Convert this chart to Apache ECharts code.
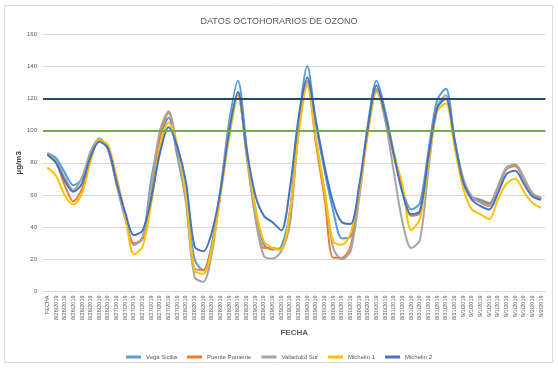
<!DOCTYPE html>
<html>
<head>
<meta charset="utf-8">
<script src="https://cdn.jsdelivr.net/npm/echarts@6/dist/echarts.min.js"></script>
<style>html,body{margin:0;padding:0;background:#fff}#c{width:558px;height:368px}</style>
</head>
<body>
<div id="c"></div>
<script>
const categories = ['FECHA',
 '8/26/2019','8/26/2019','8/26/2019','8/26/2019','8/26/2019','8/26/2019','8/26/2019',
 '8/27/2019','8/27/2019','8/27/2019','8/27/2019','8/27/2019','8/27/2019','8/27/2019','8/27/2019',
 '8/28/2019','8/28/2019','8/28/2019','8/28/2019','8/28/2019','8/28/2019','8/28/2019','8/28/2019',
 '8/29/2019','8/29/2019','8/29/2019','8/29/2019','8/29/2019','8/29/2019','8/29/2019','8/29/2019',
 '8/30/2019','8/30/2019','8/30/2019','8/30/2019','8/30/2019','8/30/2019','8/30/2019','8/30/2019',
 '8/31/2019','8/31/2019','8/31/2019','8/31/2019','8/31/2019','8/31/2019','8/31/2019','8/31/2019',
 '9/1/2019','9/1/2019','9/1/2019','9/1/2019','9/1/2019','9/1/2019','9/1/2019','9/1/2019',
 '9/2/2019','9/2/2019'];

const vegaSicilia   = [86,83,74,66,70,86,94,89,67,46,29,33,70,96,108,84,57,20,13,30,64,106,131,90,52,29,26,28,50,105,140,104,75,50,33,34,62,104,131,112,86,63,51,55,88,119,126,95,70,59,57,55,65,77,78,70,61,58];
const puentePoniente= [85,80,66,56,64,83,95,89,67,46,30,33,60,96,111,88,58,14,13.5,28,62,100,124,85,48,27,27,26,46,100,130,92,58,21,21,28,60,100,125,108,84,63,47,49,84,114,120,92,68,58,56,54,64,76,78,70,61,57.5];
const valladolidSur = [86,81,71,63,71,87,95,88,66,45,29,34,66,100,112,88,55,9,6,24,62,102,122,84,46,22,20.5,25,42,100,131,94,62,27,20,25,58,100,126,106,74,43,27,32,76,115,122,94,70,59,55,53,65,77,79,71,61,58.5];
const michelin1     = [77,72,60,54,61,81,94,91,71,47,23,28,55,90,105,91,60,13,11,27,60,96,121,87,52,31,27,26,50,97,128,95,63,31,29,36,62,98,124,110,86,66,38,45,80,112,117,90,64,51,48,45,57,67,70,62,55,52];
const michelin2     = [85,80,69,62,67,84,93,89,68,49,35,38,58,86,102,90,68,28,25,37,63,100,124,88,60,47,43,38,64,108,133,106,78,55,43,42,66,102,128,110,85,61,48,50,84,114,120,94,68,57,53,51,61,73,75,67,59,57];
const thresholds = [120, 100];

const font = 'Liberation Sans';
const chart = echarts.init(document.getElementById('c'), null, {renderer: 'canvas'});
const mk = (name, data, color) => ({
  name, type: 'line', data, smooth: 0.3, showSymbol: false, symbol: 'none',
  lineStyle: {width: 2, color}, itemStyle: {color}
});
const series = [
  mk('Vega Sicilia', vegaSicilia, '#5B9BD5'),
  mk('Puente Poniente', puentePoniente, '#ED7D31'),
  mk('Valladolid Sur', valladolidSur, '#A5A5A5'),
  mk('Michelin 1', michelin1, '#FFC000'),
  mk('Michelin 2', michelin2, '#4472C4')
];
series[4].markLine = {
  silent: true, symbol: ['none', 'none'], label: {show: false},
  data: [
    {yAxis: thresholds[0], lineStyle: {color: '#1F4E79', width: 2, type: 'solid'}},
    {yAxis: thresholds[1], lineStyle: {color: '#70AD47', width: 2, type: 'solid'}}
  ]
};
chart.setOption({
  animation: false,
  backgroundColor: '#fff',
  textStyle: {fontFamily: font},
  graphic: [{type: 'rect', shape: {x: 4.5, y: 5.5, width: 548, height: 357},
    style: {fill: 'none', stroke: '#D9D9D9', lineWidth: 1}, silent: true}],
  title: {text: 'DATOS OCTOHORARIOS DE OZONO', left: 'center', top: 12,
    textStyle: {fontSize: 9, fontWeight: 'normal', color: '#595959', fontFamily: font}},
  legend: {top: 349, left: 'center', icon: 'rect', itemWidth: 15, itemHeight: 3, itemGap: 10,
    textStyle: {fontSize: 6, color: '#595959', fontFamily: font},
    data: ['Vega Sicilia', 'Puente Poniente', 'Valladolid Sur', 'Michelin 1', 'Michelin 2']},
  grid: {left: 43, right: 12.5, top: 34, bottom: 76.5, containLabel: false},
  xAxis: {
    type: 'category', data: categories, boundaryGap: true,
    name: 'FECHA', nameLocation: 'middle', nameGap: 37, nameMoveOverlap: false,
    nameTextStyle: {fontSize: 8, fontWeight: 'bold', color: '#595959', fontFamily: font},
    axisLine: {show: true, lineStyle: {color: '#D9D9D9'}},
    axisTick: {show: false},
    axisLabel: {interval: 0, rotate: 90, fontSize: 5.5, color: '#595959', margin: 4, fontFamily: font}
  },
  yAxis: {
    type: 'value', min: 0, max: 160, interval: 20,
    name: 'µg/m3', nameLocation: 'middle', nameGap: 20, nameRotate: 90, nameMoveOverlap: false,
    nameTextStyle: {fontSize: 8, fontWeight: 'bold', color: '#404040', fontFamily: font},
    axisLine: {show: false}, axisTick: {show: false},
    axisLabel: {fontSize: 6, color: '#595959', margin: 6, fontFamily: font},
    splitLine: {lineStyle: {color: '#D9D9D9', width: 1}}
  },
  series
});
</script>
</body>
</html>
